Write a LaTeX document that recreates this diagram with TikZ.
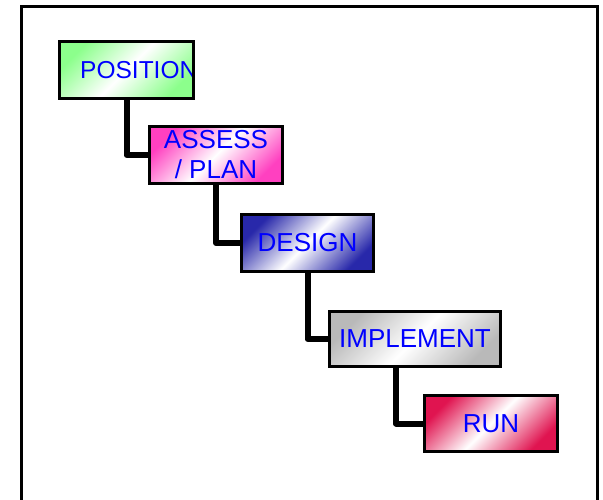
\documentclass[tikz,border=0pt]{standalone}
\usepackage{fontspec}
\setmainfont{Liberation Sans}
\definecolor{cgreen}{RGB}{140,255,140}
\definecolor{cpink}{RGB}{255,64,192}
\definecolor{cblue}{RGB}{40,40,170}
\definecolor{cgrey}{RGB}{185,185,185}
\definecolor{cred}{RGB}{224,20,80}
\definecolor{ctext}{RGB}{0,0,255}
\tikzset{
  stepbox/.style={draw=black, line width=3pt, rectangle, inner sep=0pt, outer sep=0pt,
    left color=#1, right color=#1, middle color=white, shading angle=45,
    text=ctext, font=\fontsize{26}{30}\selectfont, align=center},
  link/.style={draw=black, line width=6pt, line join=round}
}
\begin{document}
\begin{tikzpicture}[x=1pt,y=-1pt]
\useasboundingbox (0,0) rectangle (603,500);
\draw[line width=3pt] (21.5,7) rectangle (597.5,520);
\node[stepbox=cgreen, minimum width=134pt, minimum height=57pt] (pos) at (126.5,70) {};
\begin{scope}
  \clip (pos.south west) rectangle (pos.north east);
  \node[anchor=west, inner sep=0pt, text=ctext, font=\fontsize{24.5}{28}\selectfont] (postext) at (80,70) {POSITION};
\end{scope}
\draw[line width=3pt] (pos.south west) rectangle (pos.north east);
\node[stepbox=cpink, minimum width=133pt, minimum height=57pt] (ass) at (216,155) {ASSESS\\/ PLAN};
\node[stepbox=cblue, minimum width=132pt, minimum height=57pt] (des) at (307.5,243) {DESIGN};
\node[stepbox=cgrey, minimum width=171pt, minimum height=55pt] (imp) at (415,339) {IMPLEMENT};
\node[stepbox=cred, minimum width=133pt, minimum height=56pt] (run) at (491,423.5) {RUN};
\coordinate (impdrop) at (396,368);
\draw[link] (pos.south) |- (ass.west);
\draw[link] (ass.south) |- (des.west);
\draw[link] (des.south) |- (imp.west);
\draw[link] (impdrop) |- (run.west);
\end{tikzpicture}
\end{document}
